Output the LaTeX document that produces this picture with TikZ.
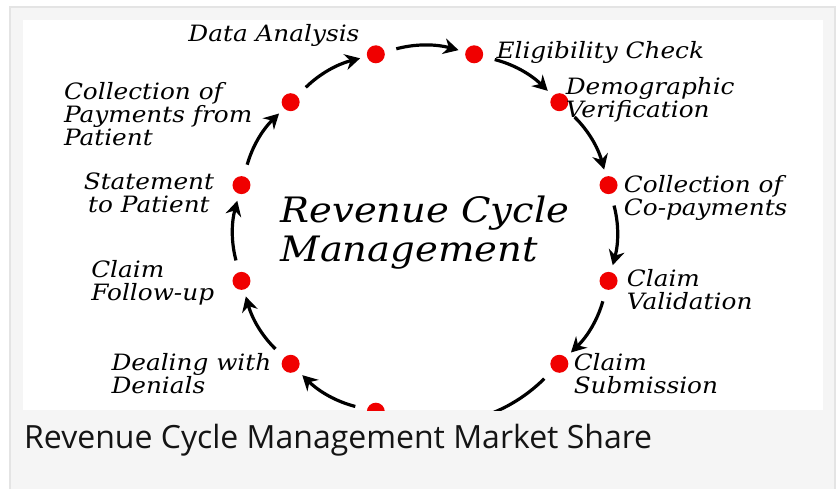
\documentclass[tikz,border=0pt]{standalone}
\usepackage{fontspec}
\newfontfamily\capfont{Open Sans}
\newfontfamily\handfont[FakeStretch=1.1]{DejaVu Serif}
\usetikzlibrary{calc,positioning,arrows.meta}
\definecolor{cardgray}{HTML}{F5F5F5}
\definecolor{cardline}{HTML}{E4E4E4}
\definecolor{dotred}{HTML}{F00000}

\begin{document}
\begin{tikzpicture}[x=1pt,y=1pt,
  dot/.style={circle,fill=dotred,inner sep=0pt,minimum size=18pt},
  lbl/.style={font=\handfont\itshape\fontsize{22.5}{23}\selectfont,align=left,inner sep=1pt},
  arr/.style={-{Stealth[length=15pt,width=16pt,inset=5pt]},line width=3.2pt,
    shorten <=12pt,shorten >=7pt}]

\useasboundingbox (0,0) rectangle (838,488);
\fill[white] (0,0) rectangle (838,488);
\filldraw[fill=cardgray,draw=cardline,line width=2pt] (10,-10) rectangle (835,481);
\fill[white] (23,78) rectangle (823,468);

\begin{scope}
\clip (23,78) rectangle (823,468);

\coordinate (O) at (425,255);
\node [font=\handfont\itshape\fontsize{35}{39}\selectfont,align=left] (T) at (O) {Revenue Cycle\\Management};

\node [dot] (D1) at ($(O)+(105:190 and 185)$) {};
\node [dot] (D2) at ($(O)+(75:190 and 185)$) {};
\node [dot] (D3) at ($(O)+(45:190 and 185)$) {};
\node [dot] (D4) at ($(O)+(15:190 and 185)$) {};
\node [dot] (D5) at ($(O)+(-15:190 and 185)$) {};
\node [dot] (D6) at ($(O)+(-45:190 and 185)$) {};
\node [dot] (D7) at ($(O)+(-105:190 and 185)$) {};
\node [dot] (D8) at ($(O)+(-135:190 and 185)$) {};
\node [dot] (D9) at ($(O)+(-165:190 and 185)$) {};
\node [dot] (D10) at ($(O)+(165:190 and 185)$) {};
\node [dot] (D11) at ($(O)+(135:190 and 185)$) {};

\node [lbl, left=6pt of D1, yshift=19pt] (L1) {Data Analysis};
\node [lbl, right=12pt of D2, yshift=2pt] (L2) {Eligibility Check};
\node [lbl, right=-4pt of D3, yshift=2pt] (L3) {Demographic\\Verification};
\node [lbl, right=5pt of D4, yshift=-13pt] (L4) {Collection of\\Co-payments};
\node [lbl, right=8pt of D5, yshift=-9pt] (L5) {Claim\\Validation};
\node [lbl, right=4pt of D6, yshift=-10pt] (L6) {Claim\\Submission};
\node [lbl, left=9pt of D8, yshift=-10pt] (L8) {Dealing with\\Denials};
\node [lbl, left=17pt of D9, yshift=-2pt] (L9) {Claim\\Follow-up};
\node [lbl, left=17pt of D10, yshift=-8pt, align=center] (L10) {Statement\\to Patient};
\node [lbl, left=28pt of D11, yshift=-12pt] (L11) {Collection of\\Payments from\\Patient};

\draw [arr] (D1) to[bend left=15] (D2);
\draw [arr] (D2) to[bend left=15] (D3);
\draw [arr] (D3) to[bend left=15] (D4);
\draw [arr] (D4) to[bend left=15] (D5);
\draw [arr] (D5) to[bend left=15] (D6);
\draw [arr] (D6) to[bend left=30] (D7);
\draw [arr] (D7) to[bend left=15] (D8);
\draw [arr] (D8) to[bend left=15] (D9);
\draw [arr] (D9) to[bend left=15] (D10);
\draw [arr] (D10) to[bend left=15] (D11);
\draw [arr] (D11) to[bend left=15] (D1);
\end{scope}

\node [font=\capfont\fontsize{32}{36}\selectfont, text=black!92, anchor=base west, inner sep=0pt] (C) at (24,40) {Revenue Cycle Management Market Share};

\end{tikzpicture}
\end{document}
